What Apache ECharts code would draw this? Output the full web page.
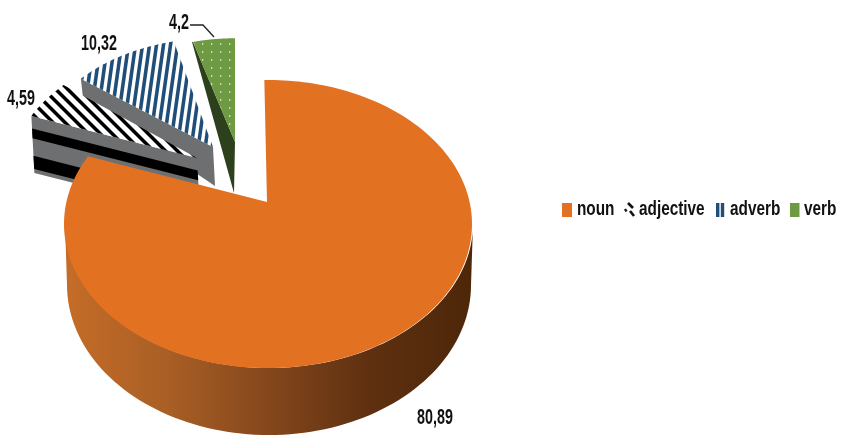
<!DOCTYPE html>
<html><head><meta charset="utf-8">
<style>html,body{margin:0;padding:0;background:#fff}#c{width:842px;height:435px}</style>
<script src="https://cdn.jsdelivr.net/npm/echarts@6/dist/echarts.min.js"></script>
</head><body><div id="c"></div>
<script>
const categories = ['noun', 'adjective', 'adverb', 'verb'];
const values = [80.89, 4.59, 10.32, 4.2];
const valueLabels = ['80,89', '4,59', '10,32', '4,2'];

// projection of the tilted pie (unit circle -> screen)
const PIE = {x: 268, y: 202, R: 201.6, a: 109.8, c: -0.153, firstAngle: -1.2};
function proj(deg) {
  const t = deg * Math.PI / 180, u = Math.sin(t), v = -Math.cos(t), d = 1 + PIE.c * v;
  return [PIE.x + PIE.R * u / d, (PIE.y + PIE.a * v) / d];
}
const total = values.reduce((a, b) => a + b, 0);
function range(i) {
  let s = 0;
  for (let k = 0; k < i; k++) s += values[k];
  return [PIE.firstAngle + s / total * 360, PIE.firstAngle + (s + values[i]) / total * 360];
}
function tile(w, h, draw) {
  const c = document.createElement('canvas'); c.width = w; c.height = h;
  draw(c.getContext('2d'), w, h);
  return {image: c, repeat: 'repeat'};
}
const hatchFill = tile(12, 12, (g, w, h) => {
  g.fillStyle = '#fff'; g.fillRect(0, 0, w, h);
  g.fillStyle = '#000';
  for (let k = -1; k <= 1; k++) {
    const o = k * w;
    g.beginPath(); g.moveTo(o, 0); g.lineTo(o + 5, 0); g.lineTo(o + 5 + w, h); g.lineTo(o + w, h); g.closePath(); g.fill();
  }
});
const stripeFill = tile(7, 50, (g, w, h) => {
  g.fillStyle = '#fff'; g.fillRect(0, 0, w, h);
  g.fillStyle = '#1f4e79';
  for (let k = -1; k <= 1; k++) {
    const o = k * w;
    g.beginPath(); g.moveTo(o + w, 0); g.lineTo(o + w + 3.6, 0); g.lineTo(o + 3.6, h); g.lineTo(o, h); g.closePath(); g.fill();
  }
});
const dotFill = tile(9, 8, (g, w, h) => {
  g.fillStyle = '#6f9a44'; g.fillRect(0, 0, w, h);
  g.fillStyle = '#c9dcb0'; g.fillRect(4, 3, 1.3, 2);
});
const GREY = '#6e6f71', ORANGE = '#e27122', BLUE = '#1f4e79', GREEN = '#6f9a44';
const STYLE = {
  adjective: {apex: [197, 158], scale: .92, turn: 1.5, fill: hatchFill, wall: GREY, depthOuter: 57, depthApex: 57, drift: 3, bands: [[.22, .39], [.70, .93]]},
  adverb: {apex: [213, 147], scale: .89, turn: 1.8, fill: stripeFill, wall: GREY, depthOuter: 18, depthApex: 39, drift: 2, bands: []},
  verb: {apex: [235, 142], scale: .85, turn: 1.2, fill: dotFill, wall: '#2c401c', depthOuter: 0, depthApex: 51, drift: -1, bands: []}
};
const LABEL = {noun: [435, 418], adjective: [21, 99], adverb: [99, 44], verb: [179, 23]};
const FONT = '"Liberation Sans",Arial,sans-serif';
function textEl(text, x, y, size, sx, align) {
  return {type: 'text', x, y, scaleX: sx, z2: 50, style: {text, fontFamily: FONT, fontWeight: 'bold', fontSize: size, fill: '#111', align, verticalAlign: 'middle'}};
}
function labelEl(i) {
  const at = LABEL[categories[i]];
  return textEl(valueLabels[i], at[0], at[1], 22, .65, 'center');
}
function lerp(a, b, t) { return [a[0] + (b[0] - a[0]) * t, a[1] + (b[1] - a[1]) * t]; }

function renderSlice(i) {
  const name = categories[i], st = STYLE[name], r = range(i), kids = [];
  const map = f => { const p = proj(r[0] + (r[1] + st.turn - r[0]) * f); return [st.apex[0] + (p[0] - PIE.x) * st.scale, st.apex[1] + (p[1] - PIE.y) * st.scale]; };
  const outer = map(0);
  const outerB = [outer[0] + st.drift, outer[1] + st.depthOuter], apexB = [st.apex[0] + st.drift, st.apex[1] + st.depthApex];
  kids.push({type: 'polygon', shape: {points: [outer, st.apex, apexB, outerB]}, style: {fill: st.wall}});
  st.bands.forEach(b => {
    kids.push({type: 'polygon', shape: {points: [lerp(outer, outerB, b[0]), lerp(st.apex, apexB, b[0]), lerp(st.apex, apexB, b[1]), lerp(outer, outerB, b[1])]}, style: {fill: '#000'}});
  });
  const pts = [st.apex];
  for (let k = 0; k <= 40; k++) pts.push(map(k / 40));
  kids.push({type: 'polygon', shape: {points: pts}, style: {fill: st.fill}});
  kids.push(labelEl(i));
  if (name === 'verb') kids.push({type: 'polyline', shape: {points: [[190, 25], [203, 25], [214, 37]]}, style: {stroke: '#222', lineWidth: 1.3, fill: null}});
  return {type: 'group', children: kids};
}
function renderNoun(i) {
  const r = range(0), kids = [];
  const cx = 269, top = {y: 224, rx: 204, ry: 144}, low = {y: 285, rx: 202, ry: 150}, wall = [];
  for (let k = 0; k <= 90; k++) { const t = Math.PI * k / 90; wall.push([cx + top.rx * Math.cos(t), top.y + top.ry * Math.sin(t)]); }
  for (let k = 90; k >= 0; k--) { const t = Math.PI * k / 90; wall.push([cx + low.rx * Math.cos(t), low.y + low.ry * Math.sin(t)]); }
  kids.push({type: 'polygon', shape: {points: wall}, style: {fill: new echarts.graphic.LinearGradient(0, 0, 1, 0, [
    {offset: 0, color: '#c56c28'}, {offset: .25, color: '#a95f25'}, {offset: .5, color: '#84471c'}, {offset: .75, color: '#5e3010'}, {offset: 1, color: '#4d2708'}])}});
  const pts = [[PIE.x - 1, PIE.y]];
  for (let k = 0; k <= 180; k++) pts.push(proj(r[0] + (r[1] - r[0]) * k / 180));
  kids.push({type: 'polygon', shape: {points: pts}, style: {fill: ORANGE}});
  kids.push(labelEl(0));
  return {type: 'group', children: kids};
}
const makeSeries = (i, fn, color) => ({
  type: 'custom', name: categories[i], coordinateSystem: 'none', silent: true,
  clip: false, animation: false, itemStyle: {color},
  data: [values[i]], renderItem: () => fn(i)
});
// legend, drawn with condensed real text
const LEGEND_Y = 209, LEGEND_TEXT_X = [577, 639, 730, 804];
const rect = (x, w, fill) => ({type: 'rect', shape: {x, y: 203, width: w, height: 14}, style: {fill}});
const dash = (a, b, w) => ({type: 'line', shape: {x1: a[0], y1: a[1], x2: b[0], y2: b[1]}, style: {stroke: '#111', lineWidth: w}});
const legendMarks = [
  rect(562, 10, ORANGE),
  dash([628, 203], [633, 208], 2.6), dash([625, 209], [626.5, 211.5], 2.4), dash([630, 211], [634, 216], 2.6),
  rect(716, 3.4, BLUE), rect(720.8, 3.4, BLUE),
  rect(790, 9.5, GREEN)
];
const legendTexts = categories.map((c, i) => textEl(c, LEGEND_TEXT_X[i], LEGEND_Y, 21, .73, 'left'));
const chart = echarts.init(document.getElementById('c'));
chart.setOption({
  animation: false, backgroundColor: '#fff',
  graphic: {elements: [{type: 'group', children: legendMarks.concat(legendTexts), silent: true}]},
  series: [
    makeSeries(3, renderSlice, GREEN),
    makeSeries(2, renderSlice, BLUE),
    makeSeries(1, renderSlice, '#111'),
    makeSeries(0, renderNoun, ORANGE)
  ]
});
</script></body></html>
